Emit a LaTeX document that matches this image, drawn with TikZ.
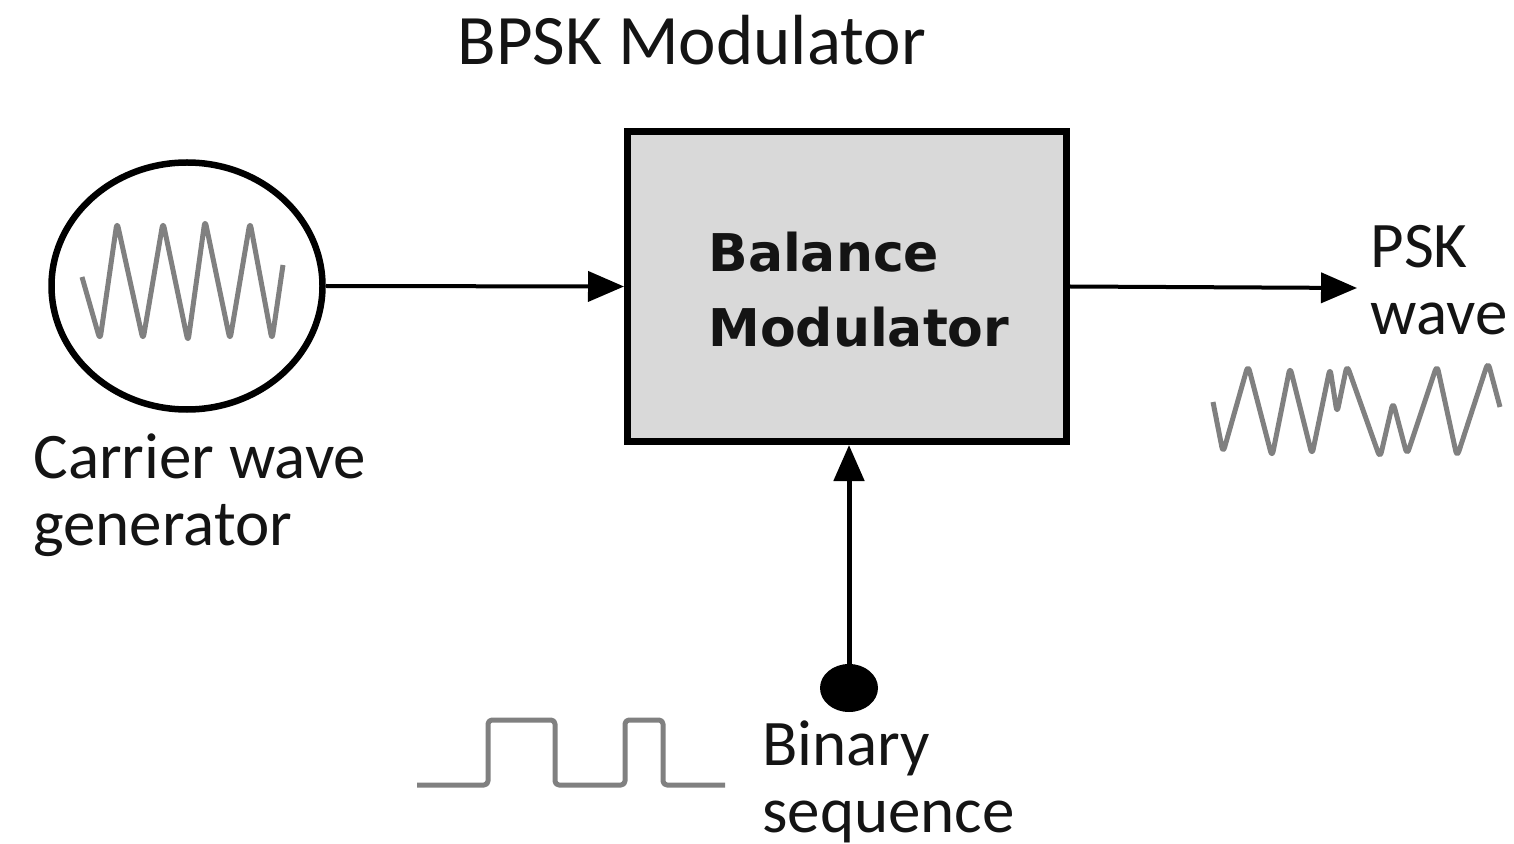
\documentclass[tikz,border=0pt]{standalone}
\usepackage{fontspec}
\setmainfont{Carlito}
\newfontfamily\blockfont{DejaVu Sans}
\usetikzlibrary{arrows.meta,shapes.geometric}
\definecolor{wavegray}{RGB}{128,128,128}
\definecolor{boxfill}{RGB}{217,217,217}
\definecolor{ink}{RGB}{20,20,20}
\begin{document}
\begin{tikzpicture}[x=0.5pt,y=-0.5pt,
  lbl/.style={font=\fontsize{32.5}{33.5}\selectfont, text=ink, inner sep=0pt, align=left, anchor=base west},
  wave/.style={draw=wavegray, line width=2.5pt, line join=round},
  conn/.style={draw=black, line width=2pt, -{Triangle[length=18pt,width=15pt]}},
]
\useasboundingbox (0,0) rectangle (1514,844);

% title
\node[lbl, font=\fontsize{35.5}{36}\selectfont] (title) at (457,65) {BPSK Modulator};

% carrier wave generator
\node[ellipse, draw, line width=3.25pt, minimum width=135.5pt, minimum height=123.5pt, inner sep=0pt] (gen) at (187,286) {};
\draw[wave, rounded corners=3pt] (82,277) -- (100,340) -- (117,222) -- (143,340) -- (163,222)
  -- (188,342) -- (205,220) -- (230,340) -- (250,222) -- (272,340) -- (283,265);
\node[lbl] (genlbl) at (33,545) {Carrier wave\\generator};

% balance modulator block
\node[draw, fill=boxfill, line width=3.5pt, minimum width=219.5pt, minimum height=155pt,
  inner sep=0pt] (mod) at (847,286.5) {};
\node[inner sep=0pt, align=left, text=ink, anchor=base west,
  font=\blockfont\bfseries\fontsize{26}{37.5}\selectfont] (modlbl) at (708,347) {Balance\\Modulator};

\draw[conn] (gen.east) -- (mod.west);

% output
\coordinate (pskend) at (1357,288);
\draw[conn] (mod.east) -- (pskend);
\node[lbl] (psklbl) at (1370,335) {PSK\\wave};
\draw[wave, rounded corners=3pt] (1213,402) -- (1223,453) -- (1248,365) -- (1272,457) -- (1290,367)
  -- (1312,455) -- (1330,368) -- (1337,413) -- (1347,365) -- (1380,458) -- (1393,402)
  -- (1407,455) -- (1437,365) -- (1457,457) -- (1488,362) -- (1500,407);

% binary input
\node[ellipse, fill=black, minimum width=29pt, minimum height=24pt, inner sep=0pt] (dot) at (849,688) {};
\draw[conn, line width=2.5pt] (dot.center) -- (dot.center |- mod.south);
\draw[wave, rounded corners=2pt] (417,785) -- (488,785) -- (488,720) -- (555,720) -- (555,785)
  -- (625,785) -- (625,720) -- (663,720) -- (663,785) -- (725,785);
\node[lbl] (binlbl) at (762,832) {Binary\\sequence};
\end{tikzpicture}
\end{document}
